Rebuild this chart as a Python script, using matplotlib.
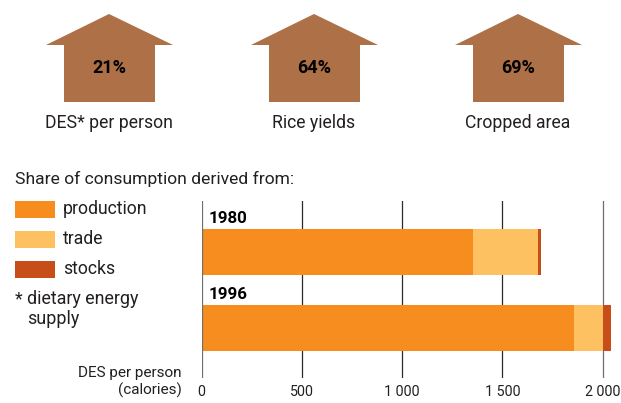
"""Recreate the houses and stacked bar figure"""

import matplotlib
matplotlib.use("Agg")

import matplotlib.pyplot as plt
import matplotlib.patches as mpatches
from matplotlib.ticker import FuncFormatter

WIDTH = 621
HEIGHT = 403

house_values = ["21%", "64%", "69%"]
house_labels = ["DES* per person", "Rice yields", "Cropped area"]

years = ["1980", "1996"]
production = [1353, 1857]
trade = [324, 143]
stocks = [15, 41]
x_ticks = [0, 500, 1000, 1500, 2000]

series_names = ["production", "trade", "stocks"]

ORANGE = "#F68D1E"
LIGHT = "#FDC162"
DARK = "#C84E19"
BROWN = "#AD7047"
TEXT = "#231F20"


def thousands(value, pos):
    return f"{int(value):,}".replace(",", " ")


def draw_houses(page):
    """Three house arrows with their captions"""
    for centre, value, label in zip([109, 314, 518], house_values, house_labels):
        outline = [
            (centre, 14),
            (centre + 64, 45),
            (centre + 46, 45),
            (centre + 46, 102),
            (centre - 45, 102),
            (centre - 45, 45),
            (centre - 63, 45),
        ]
        page.add_patch(mpatches.Polygon(outline, closed=True, facecolor=BROWN, edgecolor="none"))
        page.text(centre, 68, value, ha="center", va="center", fontsize=13,
                  fontweight="bold", color="black")
        page.text(centre, 122.5, label, ha="center", va="center", fontsize=12.7, color=TEXT)


def draw_legend(page):
    """Hand placed legend and footnote, left of the bars"""
    page.text(15, 178.5, "Share of consumption derived from:", ha="left", va="center",
              fontsize=12.6, color=TEXT)

    for top, name, color in zip([201, 231, 261], series_names, [ORANGE, LIGHT, DARK]):
        page.add_patch(mpatches.Rectangle((15, top), 40, 17, facecolor=color, edgecolor="none"))
        page.text(63, top + 8, name, ha="left", va="center", fontsize=12.7, color=TEXT)

    page.text(15, 299.5, "*", ha="left", va="center", fontsize=12.7, color=TEXT)
    page.text(27, 299.5, "dietary energy", ha="left", va="center", fontsize=12.9, color=TEXT)
    page.text(27, 319.5, "supply", ha="left", va="center", fontsize=12.9, color=TEXT)

    page.text(182, 373, "DES per person", ha="right", va="center", fontsize=11, color=TEXT)
    page.text(182, 390, "(calories)", ha="right", va="center", fontsize=11, color=TEXT)


def draw_bars(ax):
    """Stacked horizontal bars"""
    positions = range(len(years))
    left_trade = [p for p in production]
    left_stocks = [p + t for p, t in zip(production, trade)]

    ax.barh(positions, production, height=0.6, color=ORANGE, zorder=2)
    ax.barh(positions, trade, left=left_trade, height=0.6, color=LIGHT, zorder=2)
    ax.barh(positions, stocks, left=left_stocks, height=0.6, color=DARK, zorder=2)

    for i, year in enumerate(years):
        ax.text(36, i - 0.44, year, ha="left", va="center", fontsize=12.2,
                fontweight="bold", color="black")

    ax.set_xticks(x_ticks)
    ax.xaxis.set_major_formatter(FuncFormatter(thousands))
    ax.tick_params(axis="x", length=0, pad=5, labelsize=10.3, labelcolor=TEXT)
    ax.set_yticks([])

    # 0.2006 px per calorie, axes runs to the right edge of the figure
    ax.set_xlim(0, (WIDTH - 201.5) / 0.2006)
    ax.set_ylim(1.657, -0.668)

    for spine in ax.spines.values():
        spine.set_visible(False)

    for tick in x_ticks:
        color = "#6F6F6F" if tick in (0, 2000) else "#2B2B2B"
        ax.axvline(tick, color=color, linewidth=0.9, zorder=1 if tick else 3)


def main():
    plt.rcParams["font.family"] = ["Roboto", "DejaVu Sans"]
    fig = plt.figure(figsize=(WIDTH / 100, HEIGHT / 100), dpi=100)

    page = fig.add_axes([0, 0, 1, 1])
    page.set_xlim(0, WIDTH)
    page.set_ylim(HEIGHT, 0)
    page.axis("off")

    ax = fig.add_axes([201.5 / WIDTH, (HEIGHT - 378) / HEIGHT, (WIDTH - 201.5) / WIDTH, 177 / HEIGHT])
    ax.patch.set_alpha(0)

    draw_houses(page)
    draw_legend(page)
    draw_bars(ax)

    plt.savefig("out.png", dpi=100)
    plt.close(fig)


if __name__ == "__main__":
    main()
